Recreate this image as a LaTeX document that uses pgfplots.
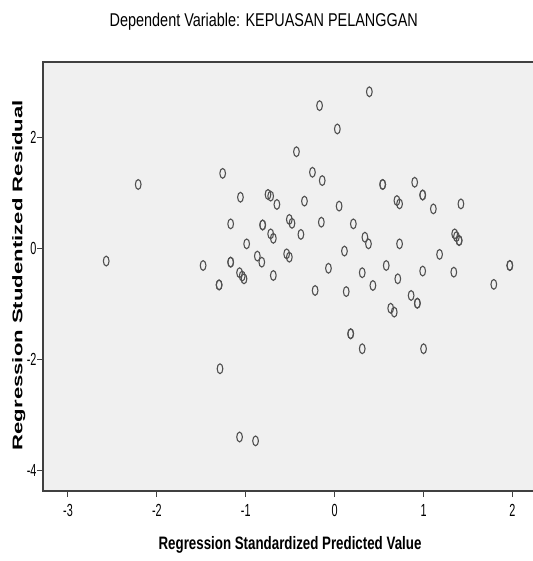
\documentclass[border=0pt]{standalone}
\usepackage{fontspec}
\usepackage{pgfplots}
\pgfplotsset{compat=1.18}
\setmainfont{Liberation Sans}
\newfontfamily\titlefont[FakeStretch=0.78]{Liberation Sans}
\newfontfamily\xlabfont[FakeStretch=0.74]{Liberation Sans}
\newfontfamily\ylabfont[FakeStretch=1.58]{Liberation Sans}
\newfontfamily\tickfont[FakeStretch=0.62]{Liberation Sans}
\definecolor{bg}{HTML}{F0F0F0}
\definecolor{mk}{HTML}{505050}
\definecolor{ax}{HTML}{404040}
\pgfplotstableread{
x y
-2.57 -0.23
-2.21 1.15
-1.48 -0.31
-1.26 1.35
-1.17 0.44
-1.17 -0.25
-1.17 -0.25
-1.06 0.92
-0.99 0.08
-1.07 -0.44
-1.04 -0.50
-1.02 -0.55
-1.30 -0.66
-1.30 -0.66
-1.29 -2.17
-0.87 -0.14
-0.82 -0.25
-0.81 0.42
-0.81 0.42
-0.75 0.97
-0.72 0.94
-0.65 0.79
-0.72 0.26
-0.69 0.18
-0.69 -0.49
-0.54 -0.10
-0.51 -0.16
-0.51 0.52
-0.48 0.45
-0.43 1.74
-0.38 0.25
-0.34 0.85
-0.25 1.37
-0.22 -0.76
-0.17 2.57
-0.15 0.47
-0.14 1.22
-0.07 -0.36
0.03 2.15
0.05 0.76
0.11 -0.05
0.13 -0.78
0.18 -1.54
0.18 -1.54
0.21 0.44
0.31 -0.44
0.31 -1.81
0.34 0.20
0.38 0.08
0.39 2.82
0.43 -0.67
0.54 1.15
0.54 1.15
0.58 -0.31
0.63 -1.08
0.67 -1.15
0.70 0.86
0.73 0.80
0.73 0.08
0.71 -0.55
0.86 -0.85
0.93 -0.99
0.93 -0.99
0.90 1.19
0.99 0.96
0.99 0.96
0.99 -0.41
1.00 -1.81
1.11 0.71
1.18 -0.11
1.34 -0.43
1.35 0.26
1.37 0.21
1.40 0.14
1.40 0.14
1.42 0.80
1.79 -0.65
1.97 -0.31
1.97 -0.31
-1.07 -3.40
-0.89 -3.47
}\resid
\begin{document}
\begin{tikzpicture}
\useasboundingbox (0,0) rectangle (532pt,561pt);
\begin{axis}[
  at={(43pt,70pt)}, anchor=south west,
  scale only axis, width=494pt, height=429pt,
  xmin=-3.281, xmax=2.276, ymin=-4.373, ymax=3.357,
  axis background/.style={fill=bg},
  axis line style={ax, line width=1.2pt},
  tick style={ax, line width=1pt},
  tick align=outside, major tick length=6pt,
  xtick pos=left, ytick pos=left,
  xtick={-3,-2,-1,0,1,2}, xticklabels={-3,-2,-1,0,1,2},
  ytick={-4,-2,0,2}, yticklabels={-4,-2,0,2},
  tick label style={font=\tickfont\fontsize{17.5}{17.5}\selectfont, text=black},
  xticklabel style={yshift=-4pt},
  yticklabel style={xshift=3pt},
  title={Dependent Variable: KEPUASAN PELANGGAN},
  title style={at={(0.447,1.068)}, anchor=base, font=\titlefont\fontsize{18.5}{20}\selectfont},
  xlabel={Regression Standardized Predicted Value},
  xlabel style={at={(0.5,-0.137)}, anchor=base, font=\xlabfont\bfseries\fontsize{18}{20}\selectfont},
  ylabel={Regression Studentized Residual},
  ylabel style={at={(-0.0419,0.503)}, anchor=base, font=\ylabfont\bfseries\fontsize{14}{16}\selectfont},
]
\addplot[only marks, mark=o, mark size=4.9pt, mark options={xscale=0.58, line width=1.1pt, draw=mk}] table[x=x,y=y]{\resid};
\end{axis}
\end{tikzpicture}
\end{document}
